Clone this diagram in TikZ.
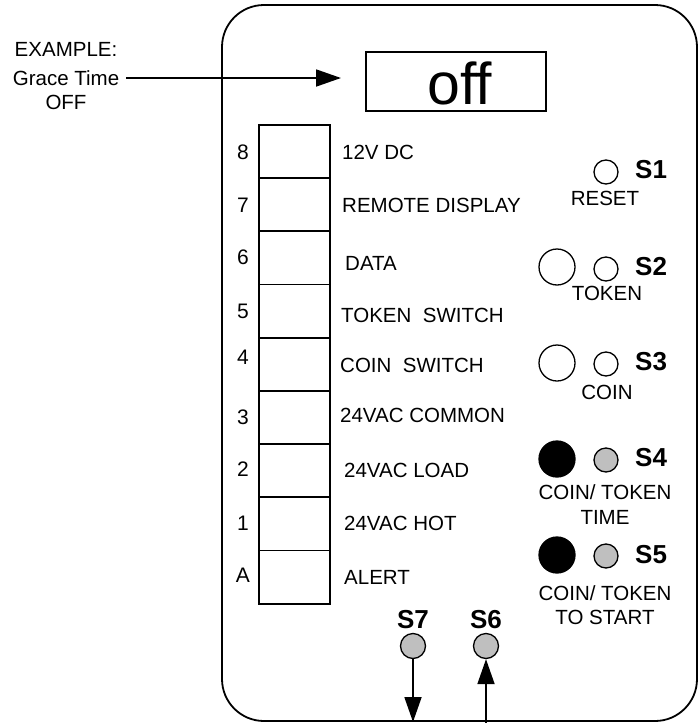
\documentclass[tikz,border=0pt]{standalone}
\usepackage{fontspec}
\setmainfont{Liberation Sans}
\newfontfamily\offfont[Ligatures=NoCommon]{Liberation Sans}
\usetikzlibrary{arrows.meta}
\begin{document}
\begin{tikzpicture}[x=1pt,y=-1pt,
  txt/.style={inner sep=0pt,font=\fontsize{20.5}{22}\selectfont},
  lab/.style={txt,anchor=west},
  num/.style={inner sep=0pt,font=\fontsize{21}{23}\selectfont},
  sname/.style={inner sep=0pt,anchor=west,font=\fontsize{26}{28}\selectfont\bfseries},
  termbox/.style={draw,line width=1.8pt,minimum width=71pt,minimum height=53.2pt,inner sep=0pt,anchor=north west},
  bigled/.style={circle,draw,line width=1.3pt,minimum size=36pt,inner sep=0pt},
  smallled/.style={circle,draw,line width=1.3pt,minimum size=24pt,inner sep=0pt},
  arr/.style={line width=1.8pt,-{Triangle[length=25pt,width=17pt]}}
]
\useasboundingbox (0,0) rectangle (699,723);
% housing
\draw[line width=1.8pt,rounded corners=42pt] (222,5) rectangle (697,721);
% display
\node[draw,line width=1.8pt,minimum width=180pt,minimum height=59pt,inner sep=0pt] (disp) at (456,81.5) {};
\node[inner sep=0pt,font=\offfont\fontsize{59}{61}\selectfont] (offtxt) at (460,83) {off};
% example
\node[txt] (ex1) at (66,49) {EXAMPLE:};
\node[txt] (ex2) at (66,78) {Grace Time};
\node[txt] (ex3) at (66,102) {OFF};
\coordinate (extip) at (341,78);
\path (ex2.east) ++(7,0) coordinate (exstart);
\draw[arr] (exstart) -- (extip);
% terminal block
\node[termbox] (t8) at (258,124) {};
\node[termbox] (t7) at (258,177.2) {};
\node[termbox] (t6) at (258,230.4) {};
\node[termbox] (t5) at (258,283.6) {};
\node[termbox] (t4) at (258,336.8) {};
\node[termbox] (t3) at (258,390) {};
\node[termbox] (t2) at (258,443.2) {};
\node[termbox] (t1) at (258,496.4) {};
\node[termbox] (tA) at (258,549.6) {};
\node[num] (n8) at (243,152) {8};
\node[num] (n7) at (243,205) {7};
\node[num] (n6) at (243,257) {6};
\node[num] (n5) at (243,311) {5};
\node[num] (n4) at (243,357) {4};
\node[num] (n3) at (243,417) {3};
\node[num] (n2) at (243,469) {2};
\node[num] (n1) at (243,523) {1};
\node[num] (nA) at (243,575) {A};
\node[lab] (l8) at (342,152) {12V DC};
\node[lab] (l7) at (342,205) {REMOTE DISPLAY};
\node[lab] (l6) at (345,263) {DATA};
\node[lab] (l5) at (341,315) {TOKEN\ \ SWITCH};
\node[lab] (l4) at (340,365) {COIN\ \ SWITCH};
\node[lab] (l3) at (340,415) {24VAC COMMON};
\node[lab] (l2) at (344,470) {24VAC LOAD};
\node[lab] (l1) at (344,523) {24VAC HOT};
\node[lab] (lA) at (344,577) {ALERT};
% switches and LEDs
\node[smallled] (s1) at (606,172) {};
\node[sname] (s1n) at (635,170) {S1};
\node[txt] (s1t) at (605,198) {RESET};
\node[bigled] (b2) at (557,267) {};
\node[smallled] (s2) at (606,269) {};
\node[sname] (s2n) at (635,267) {S2};
\node[txt] (s2t) at (607,293) {TOKEN};
\node[bigled] (b3) at (557,363) {};
\node[smallled] (s3) at (606,364) {};
\node[sname] (s3n) at (635,362) {S3};
\node[txt] (s3t) at (607,392) {COIN};
\node[bigled,fill=black] (b4) at (557,459) {};
\node[smallled,fill=black!25] (s4) at (606,460) {};
\node[sname] (s4n) at (635,458) {S4};
\node[txt] (s4t) at (605,492) {COIN/ TOKEN};
\node[txt] (s4u) at (605,517) {TIME};
\node[bigled,fill=black] (b5) at (557,555) {};
\node[smallled,fill=black!25] (s5) at (606,556) {};
\node[sname] (s5n) at (635,555) {S5};
\node[txt] (s5t) at (605,593) {COIN/ TOKEN};
\node[txt] (s5u) at (605,617) {TO START};
% bottom switches
\node[smallled,minimum size=25pt,fill=black!25] (s7) at (413,646) {};
\node[sname,anchor=center] (s7n) at (413,620) {S7};
\node[smallled,minimum size=25pt,fill=black!25] (s6) at (486,646) {};
\node[sname,anchor=center] (s6n) at (486,620) {S6};
\coordinate (s7end) at (413,722);
\coordinate (s6start) at (486,723);
\draw[arr] (s7.south) -- (s7end);
\draw[arr] (s6start) -- (s6.south);
\end{tikzpicture}
\end{document}
